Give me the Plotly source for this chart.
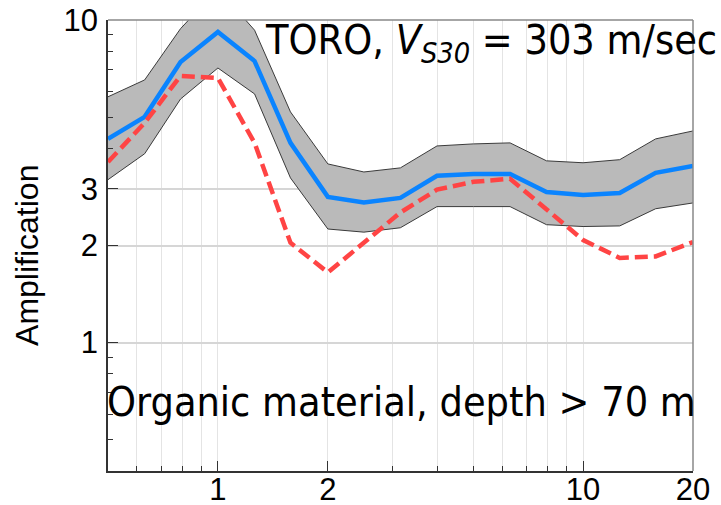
import plotly.graph_objects as go

# ---- data ----
freq = [0.5, 0.63, 0.79, 1.0, 1.26, 1.58, 2.0, 2.51, 3.16, 3.98, 5.01, 6.31, 7.94, 10.0, 12.6, 15.8, 20.0]
median_amp = [4.28, 5.01, 7.41, 9.18, 7.46, 4.16, 2.83, 2.72, 2.81, 3.29, 3.33, 3.33, 2.93, 2.87, 2.91, 3.36, 3.53]
upper_amp = [5.78, 6.52, 9.4, 12.5, 9.3, 5.19, 3.58, 3.38, 3.48, 4.07, 4.13, 4.16, 3.66, 3.61, 3.69, 4.28, 4.53]
lower_amp = [3.20, 3.85, 5.69, 7.10, 5.90, 3.24, 2.25, 2.20, 2.27, 2.64, 2.64, 2.64, 2.32, 2.29, 2.30, 2.60, 2.71]
model_amp = [3.63, 4.80, 6.71, 6.61, 4.16, 2.04, 1.65, 2.03, 2.53, 2.98, 3.15, 3.22, 2.60, 2.08, 1.83, 1.85, 2.05]

x_ticks = [1, 2, 10, 20]
x_minor = [0.6, 0.7, 0.8, 0.9, 3, 4, 5, 6, 7, 8, 9]
y_ticks = [1, 2, 3, 10]
y_minor = [0.5, 0.6, 0.7, 0.8, 0.9, 4, 5, 6, 7, 8, 9]

title_text = "TORO, <i>V</i><sub><i>S30</i></sub> = 303 m/sec"
sub_text = "Organic material, depth > 70 m"
y_title = "Amplification"

fig = go.Figure()
fig.add_trace(go.Scatter(x=freq, y=lower_amp, mode="lines",
                         line=dict(color="#3a3a3a", width=1), showlegend=False, hoverinfo="skip"))
fig.add_trace(go.Scatter(x=freq, y=upper_amp, mode="lines", fill="tonexty",
                         fillcolor="#bababa",
                         line=dict(color="#3a3a3a", width=1), showlegend=False, hoverinfo="skip"))
fig.add_trace(go.Scatter(x=freq, y=median_amp, mode="lines",
                         line=dict(color="#0a84ff", width=4.5), showlegend=False))
fig.add_trace(go.Scatter(x=freq, y=model_amp, mode="lines",
                         line=dict(color="#ff4444", width=4.5, dash="13px,6px"), showlegend=False))

tickfont = dict(family="Liberation Sans, Arial, sans-serif", size=31, color="black")
annfont = dict(family="DejaVu Sans Condensed, DejaVu Sans, sans-serif", size=41, color="black")

fig.update_layout(
    width=721, height=505,
    margin=dict(l=108, r=28, t=20, b=34, autoexpand=False),
    paper_bgcolor="white", plot_bgcolor="white",
    xaxis=dict(type="log", range=[-0.30103, 1.30103], automargin=False,
               tickvals=x_ticks, ticktext=[str(v) for v in x_ticks],
               ticks="inside", ticklen=10, tickcolor="#333", tickwidth=1,
               ticklabelstandoff=-10,
               showgrid=True, gridcolor="#e4e4e4", gridwidth=1,
               showline=True, linecolor="#333", linewidth=1.5,
               tickfont=tickfont, zeroline=False,
               minor=dict(tickvals=x_minor, ticks="inside", ticklen=5,
                          tickcolor="#333", showgrid=True, gridcolor="#e4e4e4", gridwidth=1)),
    yaxis=dict(type="log", range=[-0.39794, 1.0], automargin=False,
               tickvals=y_ticks, ticktext=[str(v) for v in y_ticks],
               ticks="inside", ticklen=10, tickcolor="#333", tickwidth=1,
               ticklabelstandoff=2,
               showgrid=True, gridcolor="#d6d6d6", gridwidth=1.5,
               showline=True, linecolor="#333", linewidth=1.5,
               tickfont=tickfont, zeroline=False,
               minor=dict(tickvals=y_minor, ticks="inside", ticklen=5,
                          tickcolor="#333", showgrid=False)),
    shapes=[
        dict(type="line", xref="paper", yref="paper", x0=0, x1=1, y0=1, y1=1,
             line=dict(color="#888", width=1.5)),
        dict(type="line", xref="paper", yref="paper", x0=1, x1=1, y0=0, y1=1,
             line=dict(color="#888", width=1.5)),
    ],
    annotations=[
        dict(text=title_text, xref="paper", yref="paper", x=0.265, y=0.949,
             xanchor="left", yanchor="middle", showarrow=False, font=annfont),
        dict(text=sub_text, xref="paper", yref="paper", x=-0.005, y=0.152,
             xanchor="left", yanchor="middle", showarrow=False, font=annfont),
        dict(text=y_title, xref="paper", yref="paper", x=-0.1385, y=0.479,
             xanchor="center", yanchor="middle", textangle=-90, showarrow=False,
             font=dict(family="Liberation Sans, Arial, sans-serif", size=32, color="black")),
    ],
)

fig.write_html("out.html")
